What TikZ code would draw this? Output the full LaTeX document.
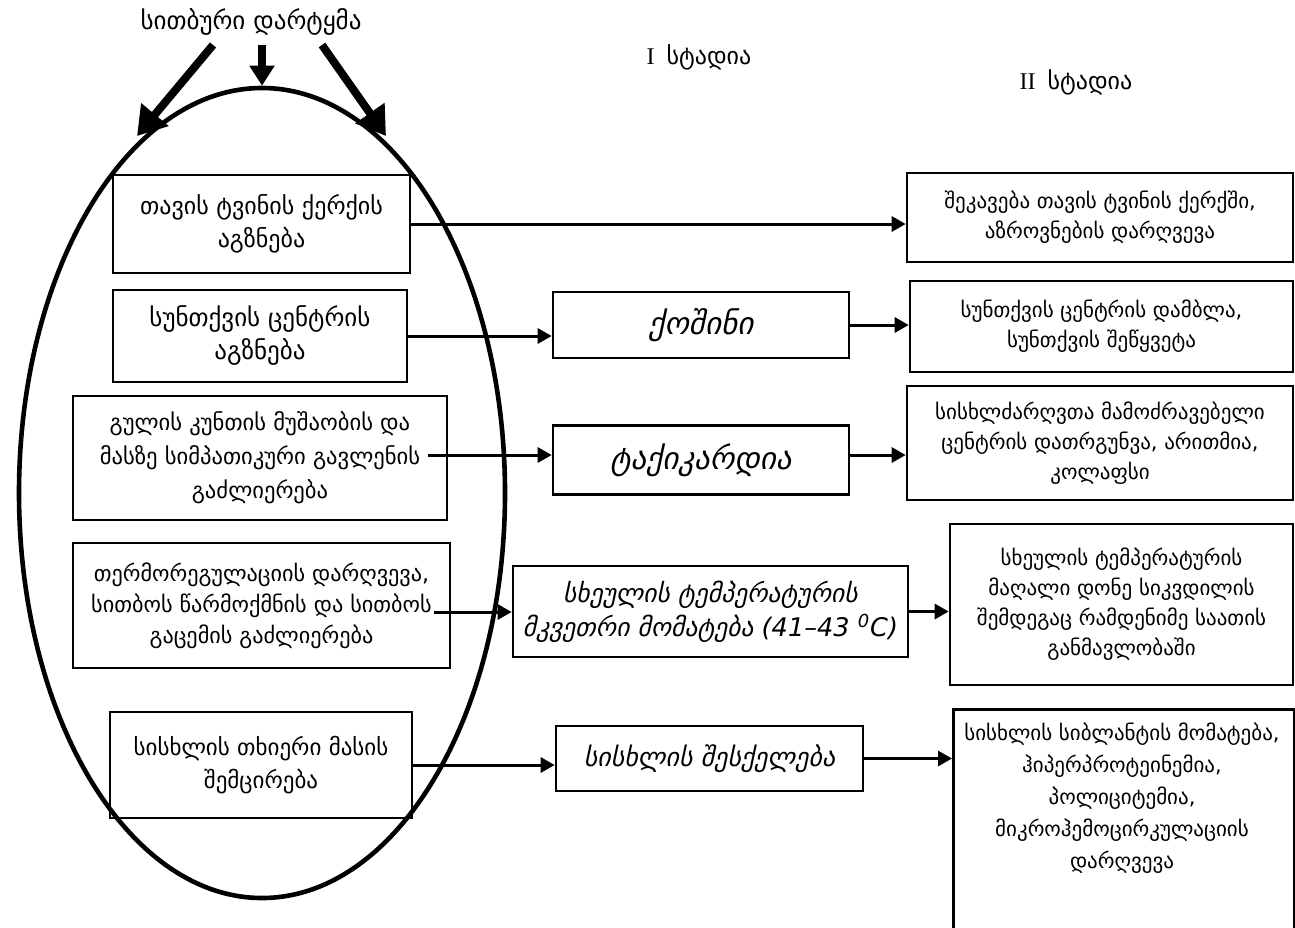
\documentclass[tikz,border=0pt]{standalone}
\usepackage{fontspec}
\setmainfont{DejaVu Sans}
\newfontfamily\romfont{Liberation Serif}
\usetikzlibrary{arrows.meta,shapes.geometric}

\tikzset{
  box/.style={draw, line width=1.3pt, align=center, inner sep=0pt,
    font=\fontsize{10.5}{15}\selectfont},
  lbox/.style={box, font=\fontsize{12}{16.5}\selectfont},
  midbox/.style={box, font=\fontsize{13}{17}\selectfont\itshape},
  arr/.style={line width=1.5pt, -{Triangle[length=7pt,width=7.5pt]}},
  bigarr/.style={line width=4pt, -{Triangle[length=14pt,width=17pt]}},
  label/.style={inner sep=0pt},
}

\begin{document}
\begin{tikzpicture}[x=0.5pt,y=-0.5pt]
\clip (0,0) rectangle (1295,927);

% big oval grouping the first-stage changes
\node[ellipse, draw, line width=2.3pt, minimum width=243pt, minimum height=405pt, inner sep=0pt] (oval) at (262,493) {};

% heading and the three arrows into the oval
\node[label, font=\fontsize{12.5}{15}\selectfont] (title) at (251,22) {სითბური დარტყმა};
\coordinate (tl) at (213,45);
\coordinate (tm) at (262,45);
\coordinate (tr) at (322,45);
\coordinate (hl) at (137,136);
\coordinate (hr) at (386,136);
\draw[bigarr] (tl) -- (hl);
\draw[bigarr, -{Triangle[length=10pt,width=12pt]}] (tm) -- (oval.north);
\draw[bigarr] (tr) -- (hr);

% stage headings
\node[label, font=\fontsize{12}{15}\selectfont] (st1) at (699,57) {{\romfont I}\enspace სტადია};
\node[label, font=\fontsize{12}{15}\selectfont] (st2) at (1076,82) {{\romfont II}\enspace სტადია};

% left column (inside the oval)
\node[lbox, minimum width=148.5pt, minimum height=49pt] (L1) at (261.5,224) {თავის ტვინის ქერქის\\აგზნება};
\node[lbox, minimum width=147pt, minimum height=46pt, font=\fontsize{12.5}{16.5}\selectfont] (L2) at (260,336) {სუნთქვის ცენტრის\\აგზნება};
\node[lbox, minimum width=187pt, minimum height=62pt, font=\fontsize{11.3}{17}\selectfont] (L3) at (260,458) {გულის კუნთის მუშაობის და\\მასზე სიმპათიკური გავლენის\\გაძლიერება};
\node[box, minimum width=188.5pt, minimum height=62.5pt, font=\fontsize{11.1}{15.5}\selectfont] (L4) at (261.5,605.5) {თერმორეგულაციის დარღვევა,\\სითბოს წარმოქმნის და სითბოს\\გაცემის გაძლიერება};
\node[lbox, minimum width=151pt, minimum height=53pt, font=\fontsize{11.5}{16.5}\selectfont] (L5) at (261,765) {სისხლის თხიერი მასის\\შემცირება};

% middle column
\node[midbox, minimum width=148pt, minimum height=33pt, font=\fontsize{15.5}{17}\selectfont\itshape] (M1) at (701,325) {ქოშინი};
\node[midbox, minimum width=148pt, minimum height=34.5pt, font=\fontsize{15.5}{17}\selectfont\itshape] (M2) at (701,460) {ტაქიკარდია};
\node[midbox, minimum width=197.5pt, minimum height=45.5pt, font=\fontsize{12.8}{17}\selectfont\itshape] (M3) at (710.5,611.5) {სხეულის ტემპერატურის\\მკვეთრი მომატება (41–43 \textsuperscript{0}C)};
\node[midbox, minimum width=153.5pt, minimum height=32.5pt] (M4) at (709.5,758.5) {სისხლის შესქელება};

% right column
\node[box, minimum width=193pt, minimum height=44.5pt] (R1) at (1100,217.5) {შეკავება თავის ტვინის ქერქში,\\აზროვნების დარღვევა};
\node[box, minimum width=191.5pt, minimum height=45.5pt] (R2) at (1101.5,326.5) {სუნთქვის ცენტრის დამბლა,\\სუნთქვის შეწყვეტა};
\node[box, minimum width=193pt, minimum height=57pt] (R3) at (1100,443) {სისხლძარღვთა მამოძრავებელი\\ცენტრის დათრგუნვა, არითმია,\\კოლაფსი};
\node[box, minimum width=171.5pt, minimum height=80.5pt] (R4) at (1121.5,604.5) {სხეულის ტემპერატურის\\მაღალი დონე სიკვდილის\\შემდეგაც რამდენიმე საათის\\განმავლობაში};
\node[box, minimum width=170.5pt, minimum height=125pt, anchor=north west] (R5) at (952,708) {};
\node[label, align=center, anchor=north, font=\fontsize{10.5}{16}\selectfont] (R5t) at (1122,722) {სისხლის სიბლანტის მომატება,\\ჰიპერპროტეინემია,\\პოლიციტემია,\\მიკროჰემოცირკულაციის\\დარღვევა};

% connectors
\draw[arr] (L1.east) -- (L1.east -| R1.west);
\draw[arr] (L2.east) -- (L2.east -| M1.west);
\draw[arr] (M1.east) -- (M1.east -| R2.west);
\coordinate (s3) at (428,455);
\draw[arr] (s3) -- (s3 -| M2.west);
\draw[arr] (M2.east |- s3) -- (s3 -| R3.west);
\coordinate (s4) at (434,612);
\draw[arr] (s4) -- (s4 -| M3.west);
\draw[arr] (M3.east) -- (M3.east -| R4.west);
\draw[arr] (L5.east) -- (L5.east -| M4.west);
\draw[arr] (M4.east) -- (M4.east -| R5.west);
\end{tikzpicture}
\end{document}
